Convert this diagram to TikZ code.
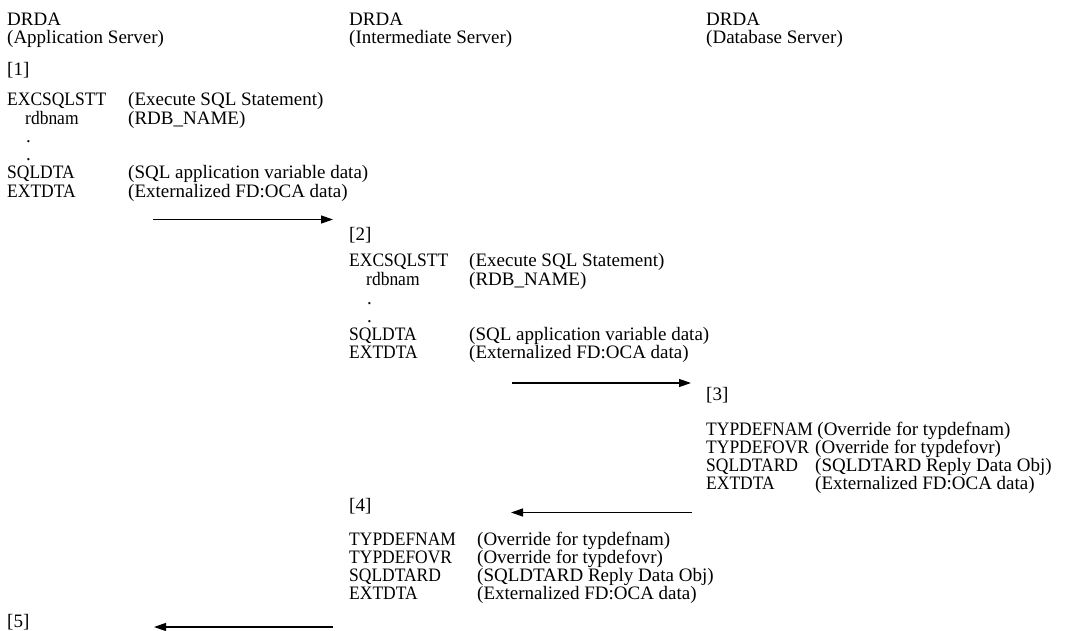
\documentclass[tikz,border=0pt]{standalone}
\usepackage{fontspec}
\setmainfont{Liberation Serif}
% slightly condensed face for the DDM command and parameter names
\newfontfamily\namefont{Liberation Serif}[FakeStretch=0.92]
\usetikzlibrary{arrows.meta}
\begin{document}
\begin{tikzpicture}[x=1pt,y=-1pt,
  txt/.style={anchor=base west, inner sep=0pt, font=\fontsize{19}{19}\selectfont},
  nm/.style={txt, font=\fontsize{19}{19}\namefont},
  flow/.style={line width=1.3pt, -{Triangle[length=12pt,width=8pt]}}]
\useasboundingbox (0,0) rectangle (1066,631);

% column headers
\node[txt] (h1a) at (7,26) {DRDA};
\node[txt] (h1b) at (7,44) {(Application Server)};
\node[txt] (h2a) at (349,26) {DRDA};
\node[txt] (h2b) at (349,44) {(Intermediate Server)};
\node[txt] (h3a) at (706,26) {DRDA};
\node[txt] (h3b) at (706,44) {(Database Server)};

% [1] request at the application server
\node[txt] (s1) at (7,76) {[1]};
\node[nm]  (r1a)  at (7,106)    {EXCSQLSTT};
\node[txt] (r1ad) at (128,106)  {(Execute SQL Statement)};
\node[nm]  (r1b)  at (25,124.5) {rdbnam};
\node[txt] (r1bd) at (128,124.5){(RDB\_NAME)};
\node[txt] (r1c)  at (26,143)   {.};
\node[txt] (r1d)  at (26,161)   {.};
\node[nm]  (r1e)  at (7,179)    {SQLDTA};
\node[txt] (r1ed) at (128,179)  {(SQL application variable data)};
\node[nm]  (r1f)  at (7,197.5)  {EXTDTA};
\node[txt] (r1fd) at (128,197.5){(Externalized FD:OCA data)};

% [2] request forwarded by the intermediate server
\node[txt] (s2) at (349,241) {[2]};
\node[nm]  (r2a)  at (349,267) {EXCSQLSTT};
\node[txt] (r2ad) at (469,267) {(Execute SQL Statement)};
\node[nm]  (r2b)  at (366,285.5) {rdbnam};
\node[txt] (r2bd) at (469,285.5) {(RDB\_NAME)};
\node[txt] (r2c)  at (367,304)   {.};
\node[txt] (r2d)  at (367,322)   {.};
\node[nm]  (r2e)  at (349,340)   {SQLDTA};
\node[txt] (r2ed) at (469,340)   {(SQL application variable data)};
\node[nm]  (r2f)  at (349,358.5) {EXTDTA};
\node[txt] (r2fd) at (469,358.5) {(Externalized FD:OCA data)};

% [3] reply from the database server
\node[txt] (s3) at (706,400) {[3]};
\node[nm]  (p3a)  at (706,435) {TYPDEFNAM};
\node[txt] (p3ad) at ([xshift=4pt]p3a.base east) {(Override for typdefnam)};
\node[nm]  (p3b)  at (706,453) {TYPDEFOVR};
\node[txt] (p3bd) at (815,453) {(Override for typdefovr)};
\node[nm]  (p3c)  at (706,471) {SQLDTARD};
\node[txt] (p3cd) at (815,471) {(SQLDTARD Reply Data Obj)};
\node[nm]  (p3d)  at (706,489) {EXTDTA};
\node[txt] (p3dd) at (815,489) {(Externalized FD:OCA data)};

% [4] reply returned by the intermediate server
\node[txt] (s4) at (349,511) {[4]};
\node[nm]  (p4a)  at (349,545) {TYPDEFNAM};
\node[txt] (p4ad) at (477,545) {(Override for typdefnam)};
\node[nm]  (p4b)  at (349,563) {TYPDEFOVR};
\node[txt] (p4bd) at (477,563) {(Override for typdefovr)};
\node[nm]  (p4c)  at (349,581) {SQLDTARD};
\node[txt] (p4cd) at (477,581) {(SQLDTARD Reply Data Obj)};
\node[nm]  (p4d)  at (349,599) {EXTDTA};
\node[txt] (p4dd) at (477,599) {(Externalized FD:OCA data)};

% [5] reply arrives back at the application server
\node[txt] (s5) at (7,627) {[5]};

% flow arrows between the servers
\coordinate (a1s) at (153,219.5); \coordinate (a1e) at (333,219.5);
\coordinate (a2s) at (512,383);   \coordinate (a2e) at (691,383);
\coordinate (a3s) at (692,512.5); \coordinate (a3e) at (511,512.5);
\coordinate (a4s) at (333,627);   \coordinate (a4e) at (154,627);
\draw[flow] (a1s) -- (a1e);
\draw[flow] (a2s) -- (a2e);
\draw[flow] (a3s) -- (a3e);
\draw[flow] (a4s) -- (a4e);
\end{tikzpicture}
\end{document}
